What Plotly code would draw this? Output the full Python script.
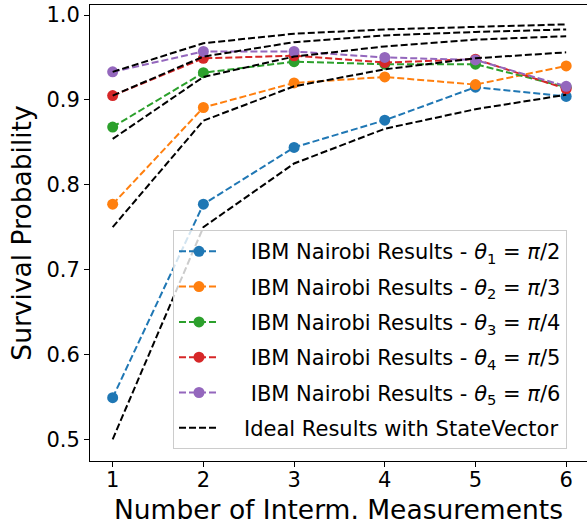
import plotly.graph_objects as go

# ---- data ----
measurements = [1, 2, 3, 4, 5, 6]

ibm_theta1 = [0.549, 0.777, 0.844, 0.876, 0.915, 0.904]   # pi/2
ibm_theta2 = [0.777, 0.891, 0.920, 0.927, 0.918, 0.940]   # pi/3
ibm_theta3 = [0.868, 0.932, 0.945, 0.942, 0.942, 0.915]   # pi/4
ibm_theta4 = [0.905, 0.949, 0.952, 0.944, 0.948, 0.913]   # pi/5
ibm_theta5 = [0.933, 0.957, 0.957, 0.950, 0.947, 0.916]   # pi/6

ideal_theta1 = [0.500, 0.750, 0.825, 0.866, 0.889, 0.906]
ideal_theta2 = [0.750, 0.8755, 0.916, 0.936, 0.949, 0.956]
ideal_theta3 = [0.854, 0.927, 0.951, 0.963, 0.971, 0.975]
ideal_theta4 = [0.905, 0.951, 0.968, 0.976, 0.980, 0.983]
ideal_theta5 = [0.933, 0.9667, 0.978, 0.983, 0.986, 0.989]

PAD = "\u00a0" * 3
ibm_labels = [
    PAD + "\u00a0IBM Nairobi Results - <i>θ</i><sub>1</sub> = <i>π</i>/2",
    PAD + "\u00a0IBM Nairobi Results - <i>θ</i><sub>2</sub> = <i>π</i>/3",
    PAD + "\u00a0IBM Nairobi Results - <i>θ</i><sub>3</sub> = <i>π</i>/4",
    PAD + "\u00a0IBM Nairobi Results - <i>θ</i><sub>4</sub> = <i>π</i>/5",
    PAD + "\u00a0IBM Nairobi Results - <i>θ</i><sub>5</sub> = <i>π</i>/6",
]
ideal_label = PAD + "Ideal Results with StateVector"
colors = ["#1f77b4", "#ff7f0e", "#2ca02c", "#d62728", "#9467bd"]

ibm_series = [ibm_theta1, ibm_theta2, ibm_theta3, ibm_theta4, ibm_theta5]
ideal_series = [ideal_theta1, ideal_theta2, ideal_theta3, ideal_theta4, ideal_theta5]

FONT = "DejaVu Sans"
fig = go.Figure()

for i, (vals, lab, col) in enumerate(zip(ibm_series, ibm_labels, colors)):
    fig.add_trace(go.Scatter(
        x=measurements, y=vals, name=lab, mode="lines+markers",
        line=dict(color=col, width=2, dash="7px,3px"),
        marker=dict(color=col, size=11, line=dict(width=0)),
        legendgroup=f"g{i}", hoverinfo="skip",
    ))

for i, vals in enumerate(ideal_series):
    fig.add_trace(go.Scatter(
        x=measurements, y=vals, name=ideal_label, mode="lines",
        line=dict(color="black", width=2, dash="7px,3px"),
        legendgroup="ideal", showlegend=(i == 0), hoverinfo="skip",
    ))

fig.update_layout(
    width=587, height=525,
    margin=dict(l=90, r=0, t=5, b=64, autoexpand=False),
    plot_bgcolor="white", paper_bgcolor="white",
    font=dict(family=FONT, color="black", size=21),
    showlegend=True,
    legend=dict(
        x=(173 - 90) / 497, xanchor="left", y=0.026, yanchor="bottom",
        bgcolor="rgba(255,255,255,0.8)", bordercolor="#cccccc", borderwidth=1,
        font=dict(family=FONT, size=21, color="black"),
        tracegroupgap=5, itemwidth=40,
    ),
)

fig.update_xaxes(
    automargin=False,
    range=[0.75, 0.75 + 497 / 90.7],
    tickmode="array", tickvals=measurements, ticktext=[str(v) for v in measurements],
    ticks="outside", ticklen=5, tickwidth=1, tickcolor="black",
    ticklabelstandoff=-5,
    showline=True, linecolor="black", linewidth=1, mirror=True,
    showgrid=False, zeroline=False,
    tickfont=dict(family=FONT, size=21, color="black"),
    title=dict(text="Number of Interm. Measurements",
               font=dict(family=FONT, size=26.5, color="black"), standoff=15),
)
fig.update_yaxes(
    automargin=False,
    range=[0.4744, 1.0118],
    tickmode="array", tickvals=[0.5, 0.6, 0.7, 0.8, 0.9, 1.0],
    ticktext=["0.5", "0.6", "0.7", "0.8", "0.9", "1.0"],
    ticks="outside", ticklen=5, tickwidth=1, tickcolor="black",
    showline=True, linecolor="black", linewidth=1, mirror=False,
    showgrid=False, zeroline=False,
    tickfont=dict(family=FONT, size=21, color="black"),
    title=dict(text="Survival Probability",
               font=dict(family=FONT, size=26.5, color="black"), standoff=7),
)

fig.write_html(
    "out.html",
    config={"displayModeBar": False, "staticPlot": True},
    post_script="document.body.style.margin='0';document.body.style.padding='0';",
)
